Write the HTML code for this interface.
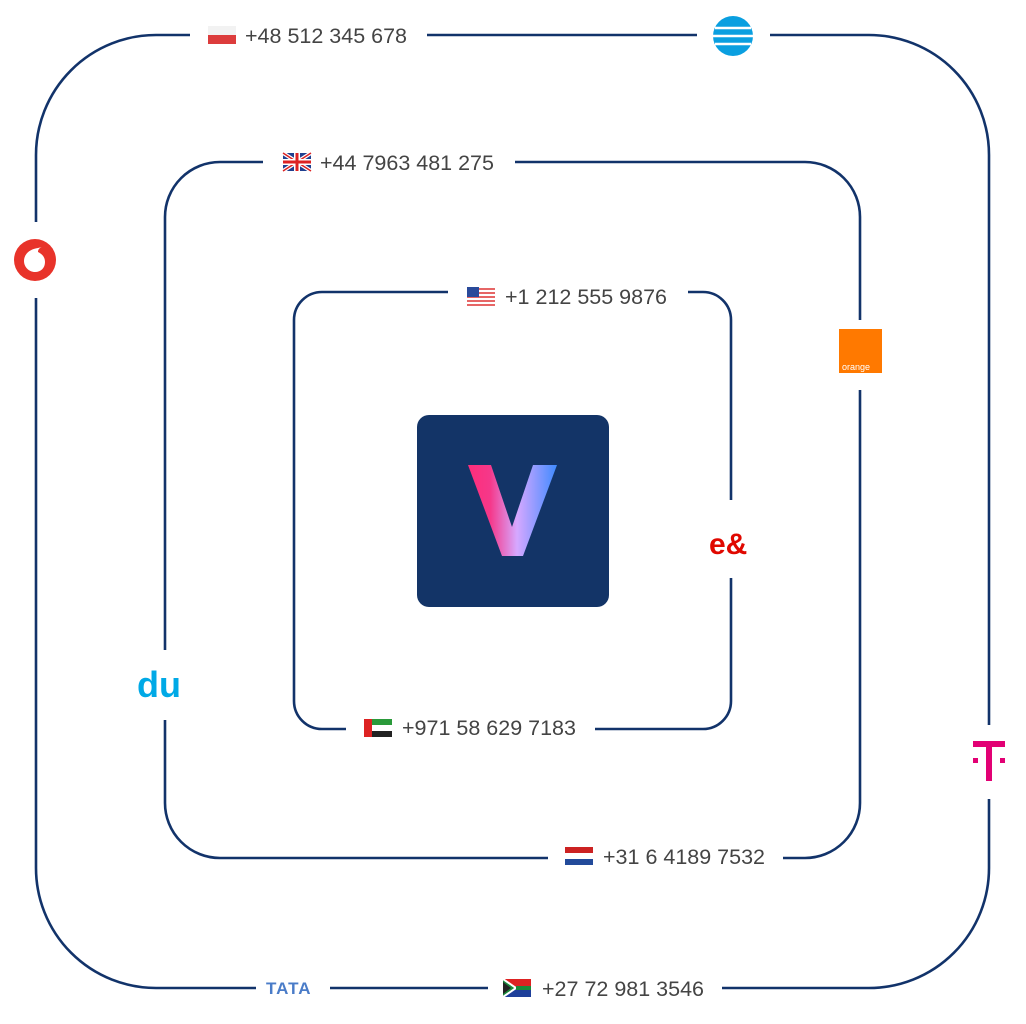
<!DOCTYPE html>
<html><head><meta charset="utf-8"><style>
html,body{margin:0;padding:0;background:#fff;}
svg{display:block;}
text{font-family:"Liberation Sans",sans-serif;font-size:21.5px;fill:#444;}
</style></head><body>
<svg width="1026" height="1024" viewBox="0 0 1026 1024">
<defs>
<linearGradient id="vg" x1="0" x2="1" y1="0" y2="0">
<stop offset="0" stop-color="#ff2d7a"/><stop offset="0.25" stop-color="#f5388a"/>
<stop offset="0.55" stop-color="#d6a8ff"/><stop offset="1" stop-color="#3f8bff"/>
</linearGradient>
</defs>
<g fill="none" stroke="#12336a" stroke-width="2.6">
<rect x="36" y="35" width="953" height="953" rx="120"/>
<rect x="165" y="162" width="695" height="696" rx="55"/>
<rect x="294" y="292" width="437" height="437" rx="28"/>
</g>
<g fill="#fff">
<rect x="190" y="25" width="237" height="20"/>
<rect x="697" y="25" width="73" height="20"/>
<rect x="26" y="222" width="20" height="76"/>
<rect x="979" y="725" width="20" height="74"/>
<rect x="256" y="978" width="74" height="20"/>
<rect x="488" y="978" width="234" height="20"/>
<rect x="263" y="152" width="252" height="20"/>
<rect x="850" y="320" width="20" height="70"/>
<rect x="155" y="650" width="20" height="70"/>
<rect x="548" y="848" width="235" height="20"/>
<rect x="448" y="282" width="240" height="20"/>
<rect x="721" y="500" width="20" height="78"/>
<rect x="346" y="719" width="249" height="20"/>
</g>

<g><rect x="208" y="26" width="28" height="9" fill="#f2f2f2"/><rect x="208" y="35" width="28" height="9" fill="#dc3c3c"/></g>
<g><rect x="283" y="153" width="28" height="18" fill="#1f3f8f"/>
<path d="M283 153L311 171M311 153L283 171" stroke="#fff" stroke-width="4"/>
<path d="M283 153L311 171M311 153L283 171" stroke="#d22" stroke-width="1.5"/>
<path d="M297 153V171M283 162H311" stroke="#fff" stroke-width="6"/>
<path d="M297 153V171M283 162H311" stroke="#d22" stroke-width="3"/></g>
<g><rect x="467" y="287" width="28" height="18" fill="#fff"/>
<path d="M467 289H495M467 293H495M467 297H495M467 301H495M467 305H495" stroke="#d33" stroke-width="1.6"/>
<rect x="467" y="287" width="12" height="10" fill="#2a4a9a"/></g>
<g><rect x="364" y="719" width="28" height="6" fill="#2a9a3a"/><rect x="364" y="725" width="28" height="6" fill="#fff"/><rect x="364" y="731" width="28" height="6" fill="#222"/><rect x="364" y="719" width="8" height="18" fill="#d22"/></g>
<g><rect x="565" y="847" width="28" height="6" fill="#c22"/><rect x="565" y="853" width="28" height="6" fill="#fff"/><rect x="565" y="859" width="28" height="6" fill="#224a9a"/></g>
<g><rect x="503" y="979" width="28" height="9" fill="#d22"/><rect x="503" y="988" width="28" height="9" fill="#1e3f9a"/>
<path d="M503 979L516 988L503 997" fill="#1a8a3a" stroke="#fff" stroke-width="2"/>
<path d="M516 988H531" stroke="#1a8a3a" stroke-width="4"/>
<path d="M503 982L511 988L503 994Z" fill="#222"/></g>

<text x="245" y="43">+48 512 345 678</text>
<text x="320" y="170">+44 7963 481 275</text>
<text x="505" y="304">+1 212 555 9876</text>
<text x="402" y="735">+971 58 629 7183</text>
<text x="603" y="864">+31 6 4189 7532</text>
<text x="542" y="996">+27 72 981 3546</text>

<circle cx="733" cy="36" r="20" fill="#0a9fe0"/>
<path d="M715 28H751M713 36H753M715 44H751" stroke="#fff" stroke-width="2.5"/>
<circle cx="35" cy="260" r="21" fill="#e8332a"/>
<path d="M38 248c-8 1-14 6-14 13c0 6 5 11 11 11c6 0 10-4 10-10c0-5-3-8-7-10c0-2 1-4 4-5z" fill="#fff"/>
<rect x="839" y="329" width="43" height="44" fill="#ff7900"/>
<text x="842" y="370" style="font-size:9px;fill:#fff;">orange</text>
<text x="709" y="554" style="font-size:30px;fill:#e00800;font-weight:bold;">e&amp;</text>
<text x="137" y="697" style="font-size:36px;fill:#00a9e6;font-weight:bold;">du</text>
<g fill="#e20074"><rect x="986" y="741" width="6" height="40"/><rect x="973" y="741" width="32" height="6"/>
<rect x="973" y="758" width="5" height="5"/><rect x="1000" y="758" width="5" height="5"/></g>
<text x="266" y="994" style="font-size:17px;fill:#4a7cc8;font-weight:bold;letter-spacing:1px;">TATA</text>

<rect x="417" y="415" width="192" height="192" rx="12" fill="#133467"/>
<path d="M468 465H491L512 527L533 465H557L523 556H502Z" fill="url(#vg)"/>
</svg>
</body></html>
